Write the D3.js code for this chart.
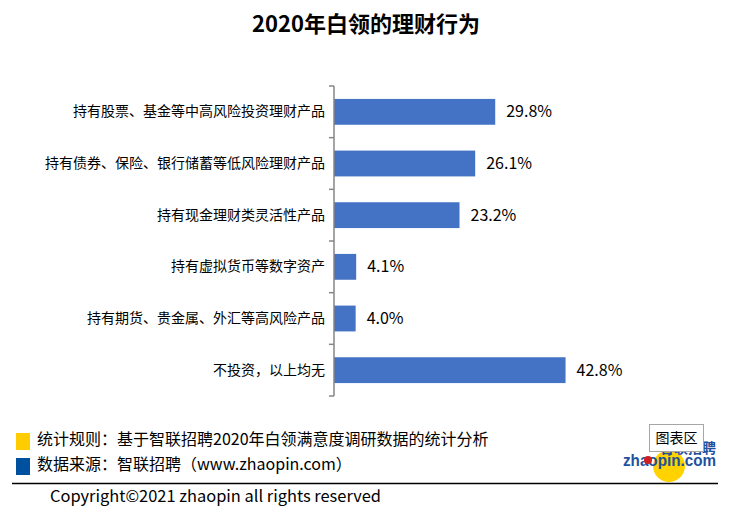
<!DOCTYPE html>
<html><head><meta charset="utf-8">
<script src="https://cdn.jsdelivr.net/npm/d3@7"></script>
<style>
html,body{margin:0;padding:0;background:#fff;}
text{font-family:"Microsoft YaHei","Noto Sans CJK SC","Noto Sans",sans-serif;}
</style></head>
<body>
<svg id="chart" width="738" height="514"></svg>
<script>
const title = "2020年白领的理财行为";
const categories = [
  "持有股票、基金等中高风险投资理财产品",
  "持有债券、保险、银行储蓄等低风险理财产品",
  "持有现金理财类灵活性产品",
  "持有虚拟货币等数字资产",
  "持有期货、贵金属、外汇等高风险产品",
  "不投资，以上均无"
];
const values = [29.8, 26.1, 23.2, 4.1, 4.0, 42.8];
const valueLabels = ["29.8%", "26.1%", "23.2%", "4.1%", "4.0%", "42.8%"];
const notes = ["统计规则：基于智联招聘2020年白领满意度调研数据的统计分析", "数据来源：智联招聘（www.zhaopin.com）"];
const noteColors = ["#FFCC00", "#0050A0"];
const copyright = "Copyright©2021 zhaopin all rights reserved";

const svg = d3.select("#chart");
const plotLeft = 334, plotTop = 86, plotH = 310;
const x = d3.scaleLinear().domain([0, 50]).range([plotLeft, plotLeft + 270.5]);
const y = d3.scaleBand().domain(categories).range([plotTop, plotTop + plotH]).paddingInner(0.5).paddingOuter(0.25);

svg.append("text").attr("x", 366).attr("y", 32).attr("text-anchor", "middle")
  .attr("font-size", 22).attr("font-weight", "bold").attr("fill", "#000").text(title);

svg.selectAll("rect.bar").data(values).join("rect").attr("class", "bar")
  .attr("x", x(0)).attr("y", (d, i) => y(categories[i]))
  .attr("width", d => x(d) - x(0)).attr("height", y.bandwidth())
  .attr("fill", "#4472C4");

const axis = d3.axisLeft(y).tickSize(0).tickPadding(9);
const g = svg.append("g").attr("transform", `translate(${plotLeft},0)`).call(axis);
g.select(".domain").attr("stroke", "#868686").attr("stroke-width", 1.5).attr("d", `M0,${plotTop}V${plotTop + plotH}`);
g.selectAll(".tick text").attr("font-size", 14).attr("fill", "#000")
  .style("font-family", '"Microsoft YaHei","Noto Sans CJK SC",sans-serif');
const bounds = d3.range(categories.length + 1).map(i => plotTop + i * plotH / categories.length);
svg.selectAll("line.tk").data(bounds).join("line").attr("class", "tk")
  .attr("x1", plotLeft - 5).attr("x2", plotLeft).attr("y1", d => d).attr("y2", d => d)
  .attr("stroke", "#868686").attr("stroke-width", 1.5);

svg.selectAll("text.val").data(values).join("text").attr("class", "val")
  .attr("x", d => x(d) + 11).attr("y", (d, i) => y(categories[i]) + y.bandwidth() / 2)
  .attr("dy", "0.35em").attr("font-size", 16).attr("fill", "#000")
  .text((d, i) => valueLabels[i]);

notes.forEach((t, i) => {
  svg.append("rect").attr("x", 16).attr("y", 433 + i * 25).attr("width", 14).attr("height", 17).attr("fill", noteColors[i]);
  svg.append("text").attr("x", 37).attr("y", 445 + i * 25).attr("font-size", 16).attr("fill", "#000").text(t);
});

svg.append("line").attr("x1", 12).attr("x2", 718).attr("y1", 483.5).attr("y2", 483.5).attr("stroke", "#000").attr("stroke-width", 1.5);
svg.append("text").attr("x", 50).attr("y", 502).attr("font-size", 16).attr("fill", "#000")
  .attr("textLength", 331).attr("lengthAdjust", "spacingAndGlyphs").text(copyright);

const logo = svg.append("g");
logo.append("circle").attr("cx", 669).attr("cy", 466).attr("r", 16).attr("fill", "#FFD200");
logo.append("text").attr("x", 716).attr("y", 453).attr("text-anchor", "end").attr("font-size", 14)
  .attr("font-weight", "bold").attr("fill", "#1E50A0").text("智联招聘");
logo.append("text").attr("x", 623).attr("y", 466).attr("font-size", 16).attr("font-weight", "bold")
  .attr("fill", "#1E50A0")
  .attr("textLength", 93).attr("lengthAdjust", "spacingAndGlyphs")
  .style("font-family", "Arial,'Liberation Sans',sans-serif").text("zhaopin.com");
logo.append("circle").attr("cx", 648).attr("cy", 460).attr("r", 4).attr("fill", "#D02020");

svg.append("rect").attr("x", 649.5).attr("y", 424.5).attr("width", 54).attr("height", 27)
  .attr("fill", "#fff").attr("stroke", "#A6A6A6");
svg.append("text").attr("x", 676.5).attr("y", 443).attr("text-anchor", "middle").attr("font-size", 14)
  .attr("fill", "#000").text("图表区");
</script>
</body></html>
